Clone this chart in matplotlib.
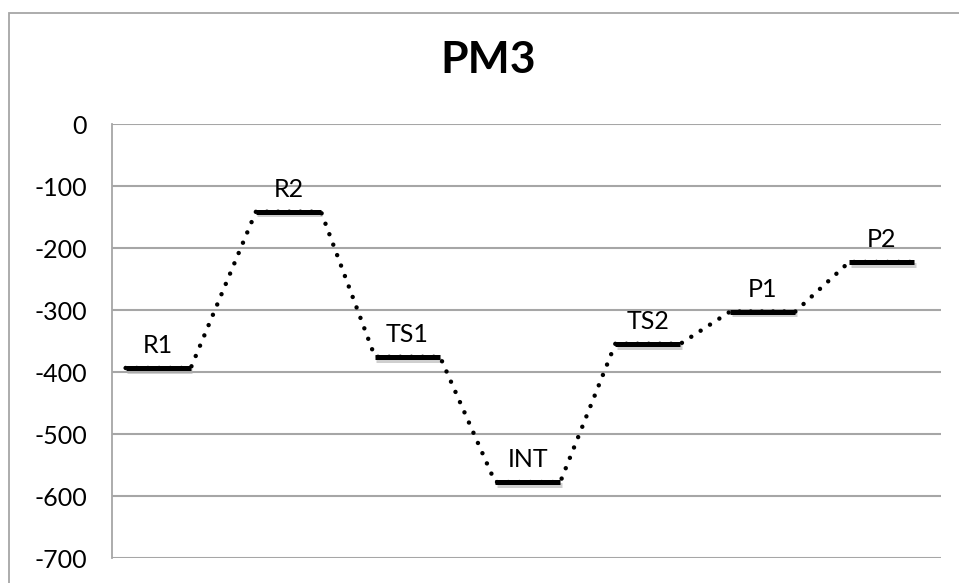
import matplotlib.pyplot as plt
import matplotlib.patheffects as pe
from matplotlib.patches import Rectangle

# du lieu doc tu hinh
states = ["R1", "R2", "TS1", "INT", "TS2", "P1", "P2"]
energy = [-393, -141, -375, -577, -354, -302, -222]
centers = [0.78, 2.98, 4.99, 7.02, 9.05, 10.99, 13.0]
y_ticks = [0, -100, -200, -300, -400, -500, -600, -700]
title = "PM3"

half = 0.55
grid_col = "#a6a6a6"

plt.rcParams['font.family'] = ['Lato', 'DejaVu Sans']

fig = plt.figure(figsize=(9.59, 5.83), dpi=100)
W, H = 959, 583

# khung ngoai cua bieu do
fig.patches.append(Rectangle((9 / W, -0.1), 1.2, (H - 13) / H + 0.1,
                             transform=fig.transFigure, fill=False,
                             edgecolor=grid_col, linewidth=1.3))

ax = fig.add_axes([112 / W, 24.7 / H, 829 / W, 434 / H])
ax.set_xlim(0, 14)
ax.set_ylim(-700, 0)
ax.set_yticks(y_ticks)
ax.set_yticklabels([str(v) for v in y_ticks], fontsize=18)
ax.tick_params(axis='y', length=0, pad=18)
ax.set_xticks([])
for s in ["top", "right", "bottom"]:
    ax.spines[s].set_visible(False)
ax.spines["left"].set_color(grid_col)
ax.spines["left"].set_linewidth(1.3)
ax.yaxis.grid(True, color=grid_col, linewidth=1.5)
ax.set_axisbelow(True)

# duong cham noi cac muc nang luong
xs, ys = [], []
for c, e in zip(centers, energy):
    xs += [c - half, c + half]
    ys += [e, e]

shadow = [pe.SimpleLineShadow(offset=(1, -2), shadow_color="#b0b0b0", alpha=0.6), pe.Normal()]
for c, e, name in zip(centers, energy, states):
    ax.plot([c - half, c + half], [e, e], color="black", linewidth=3.6,
            solid_capstyle="butt", path_effects=shadow, zorder=3)
    ax.text(c, e + 24, name, ha="center", va="baseline", fontsize=18)

ax.plot(xs, ys, color="black", linewidth=3.2, linestyle=(0, (0.01, 2.5)),
        dash_capstyle="round", zorder=4)

fig.text(488 / W, 1 - 60 / H, title, ha="center", va="center",
         fontsize=32, fontweight="bold")

fig.savefig("out.png", dpi=100)
